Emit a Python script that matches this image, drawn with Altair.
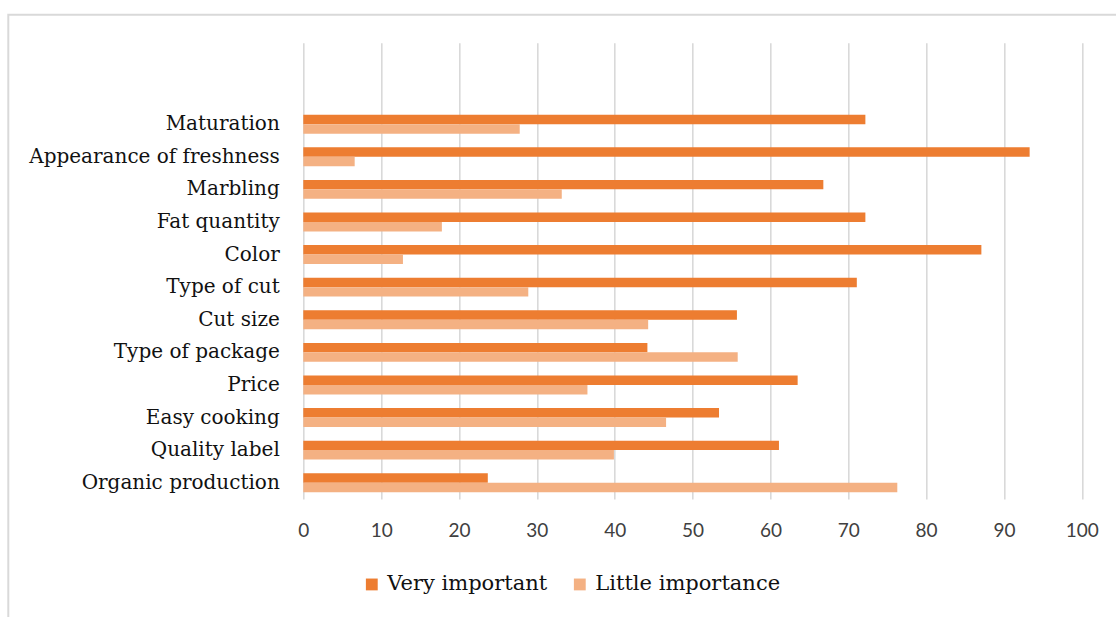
import altair as alt
import pandas as pd

# Attributes rated by respondents, top to bottom
categories = [
    "Maturation", "Appearance of freshness", "Marbling", "Fat quantity",
    "Color", "Type of cut", "Cut size", "Type of package", "Price",
    "Easy cooking", "Quality label", "Organic production",
]
very_important = [72.2, 93.3, 66.8, 72.2, 87.1, 71.1, 55.7, 44.2, 63.5, 53.4, 61.1, 23.7]
little_importance = [27.8, 6.6, 33.2, 17.8, 12.8, 28.9, 44.3, 55.8, 36.5, 46.6, 39.9, 76.3]
series = ["Very important", "Little importance"]
colors = ["#ED7D31", "#F4B183"]
x_ticks = list(range(0, 101, 10))

rows = []
for cat, v, l in zip(categories, very_important, little_importance):
    rows.append({"attribute": cat, "series": series[0], "value": v})
    rows.append({"attribute": cat, "series": series[1], "value": l})
df = pd.DataFrame(rows)

W, H = 778.5, 456.3
# two empty slots above the first category leave headroom inside the plot
y_domain = [" ", "  "] + categories

bars = alt.Chart(df).mark_bar().encode(
    x=alt.X(
        "value:Q",
        scale=alt.Scale(domain=[0, 100], nice=False),
        axis=alt.Axis(
            values=x_ticks, title=None, grid=True, gridColor="#d9d9d9",
            gridWidth=1.6, domain=False, ticks=False, labelPadding=22,
            labelFlush=False, labelFont="Lato", labelFontSize=19,
            labelColor="#404040",
        ),
    ),
    y=alt.Y(
        "attribute:N",
        scale=alt.Scale(domain=y_domain, paddingInner=0.42, paddingOuter=0.21),
        axis=alt.Axis(
            title=None, domain=False, ticks=False, labelPadding=24,
            labelFont="DejaVu Serif", labelFontSize=20, labelColor="#111111",
            labelLimit=400,
        ),
    ),
    yOffset=alt.YOffset("series:N", scale=alt.Scale(domain=series)),
    color=alt.Color(
        "series:N",
        scale=alt.Scale(domain=series, range=colors),
        legend=alt.Legend(
            title=None, orient="none", direction="horizontal",
            legendX=58, legendY=531, symbolType="square", symbolSize=140,
            symbolStrokeWidth=0, labelFont="DejaVu Serif", labelFontSize=21,
            labelColor="#111111", columnPadding=22, labelOffset=5,
            labelLimit=400,
        ),
    ),
)

# light frame around the whole figure
frame = alt.Chart(pd.DataFrame({"f": [0]})).mark_rect(
    fill=None, stroke="#d9d9d9", strokeWidth=2
).encode(
    x=alt.value(-295), x2=alt.value(W + 60),
    y=alt.value(-28), y2=alt.value(H + 140),
)

chart = alt.layer(frame, bars).properties(
    width=W, height=H,
    background="white",
    autosize=alt.AutoSizeParams(type="none"),
    padding={"left": 303.3, "top": 42.7, "right": 1116 - 303.3 - W, "bottom": 617 - 42.7 - H},
).configure_view(strokeWidth=0, stroke="transparent")

chart.save("out.html", embed_options={"renderer": "svg", "actions": False})
